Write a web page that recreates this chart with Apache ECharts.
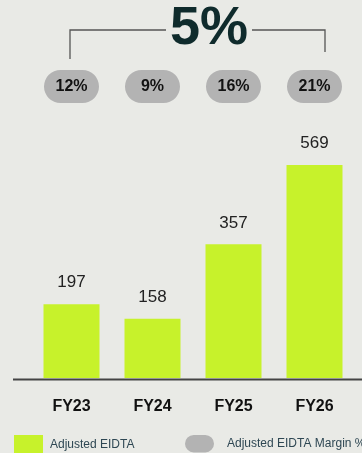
<!DOCTYPE html>
<html>
<head>
<meta charset="utf-8">
<script src="https://cdn.jsdelivr.net/npm/echarts@6/dist/echarts.min.js"></script>
<style>
html,body{margin:0;padding:0;background:#e9eae6;}
#c{width:362px;height:453px;}
</style>
</head>
<body>
<div id="c"></div>
<script>
const categories = ['FY23', 'FY24', 'FY25', 'FY26'];
const ebitda = [197, 158, 357, 569];
const margins = [12, 9, 16, 21];
const headline = '5%';

const GREEN = '#c7f22b';
const PILL = '#b3b3b3';
const pillPath = 'path://M16.5,0H38.5A16.5,16.5 0 0 1 38.5,33H16.5A16.5,16.5 0 0 1 16.5,0Z';

const chart = echarts.init(document.getElementById('c'));
chart.setOption({
  backgroundColor: '#e9eae6',
  animation: false,
  textStyle: { fontFamily: 'Liberation Sans, Arial, sans-serif' },
  grid: [
    { left: 31, right: 7, top: 153.4, bottom: 75 },
    { left: 31, right: 7, top: 70, height: 33 }
  ],
  xAxis: [
    {
      type: 'category', data: categories, gridIndex: 0,
      axisLine: { show: false }, axisTick: { show: false },
      axisLabel: { margin: 21, fontSize: 16, fontWeight: 'bold', color: '#111' }
    },
    { type: 'category', data: categories, gridIndex: 1, show: false }
  ],
  yAxis: [
    { type: 'value', min: 0, max: 600, gridIndex: 0, show: false, splitLine: { show: false } },
    { type: 'category', data: ['margin'], gridIndex: 1, show: false }
  ],
  legend: [
    {
      left: 14, top: 435, padding: 0, itemWidth: 29, itemHeight: 19,
      data: [{ name: 'Adjusted EIDTA', icon: 'rect' }],
      textStyle: { fontSize: 12, color: '#2e4753', padding: [8, 0, 0, 2] }
    },
    {
      left: 185, top: 435, padding: 0, itemWidth: 29, itemHeight: 18,
      data: [{ name: 'Adjusted EIDTA Margin %', icon: pillPath }],
      textStyle: { fontSize: 12, color: '#2e4753', padding: [8, 0, 0, 8] }
    }
  ],
  series: [
    {
      name: 'Adjusted EIDTA', type: 'bar', data: ebitda,
      xAxisIndex: 0, yAxisIndex: 0, barWidth: 56,
      itemStyle: { color: GREEN },
      label: { show: true, position: 'top', distance: 13, fontSize: 17, color: '#222' }
    },
    {
      name: 'Adjusted EIDTA Margin %', type: 'scatter',
      xAxisIndex: 1, yAxisIndex: 1,
      data: margins.map((m, i) => [categories[i], 'margin', m]),
      symbol: pillPath, symbolSize: [55, 33],
      itemStyle: { color: PILL, opacity: 1 },
      label: {
        show: true, position: 'inside', fontSize: 16, fontWeight: 'bold', color: '#111',
        formatter: p => p.value[2] + '%'
      }
    }
  ],
  graphic: [
    { type: 'polyline', shape: { points: [[70, 59], [70, 30], [166, 30]] },
      style: { stroke: '#555', lineWidth: 1.3, fill: null } },
    { type: 'polyline', shape: { points: [[252, 30], [325, 30], [325, 52]] },
      style: { stroke: '#555', lineWidth: 1.3, fill: null } },
    { type: 'text', x: 209, y: 29,
      style: { text: headline, fontSize: 54, fontWeight: 'bold', fill: '#0f2b2c',
        align: 'center', verticalAlign: 'middle', fontFamily: 'Liberation Sans, Arial, sans-serif' } },
    { type: 'line', shape: { x1: 13, y1: 379.5, x2: 362, y2: 379.5 },
      style: { stroke: '#444', lineWidth: 2 } }
  ]
});
</script>
</body>
</html>
